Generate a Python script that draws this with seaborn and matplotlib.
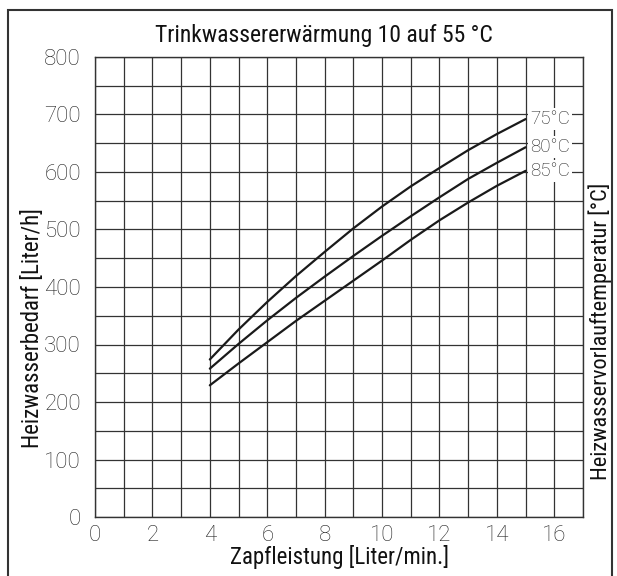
import pandas as pd
import seaborn as sns
import matplotlib
import matplotlib.pyplot as plt
from matplotlib.patches import Rectangle
from matplotlib import font_manager
matplotlib.use('Agg')

sns.set_theme(style="white")
names = {f.name for f in font_manager.fontManager.ttflist}
narrow = [n for n in ['Liberation Sans Narrow', 'DejaVu Sans Condensed', 'Roboto Condensed',
                      'Open Sans Condensed', 'Liberation Sans'] if n in names]
plt.rcParams['font.family'] = narrow + ['DejaVu Sans']

# Zapfleistung [Liter/min.]
flow = [4, 5, 6, 7, 8, 9, 10, 11, 12, 13, 14, 15]
# Heizwasserbedarf [Liter/h] per Vorlauftemperatur
need_75 = [274, 326, 374, 419, 461, 502, 540, 575, 607, 638, 666, 692]
need_80 = [258, 301, 342, 381, 418, 454, 489, 523, 556, 588, 616, 643]
need_85 = [229, 267, 304, 341, 376, 411, 446, 482, 516, 547, 576, 602]
curve_labels = ['75°C', '80°C', '85°C']
x_ticks = [0, 2, 4, 6, 8, 10, 12, 14, 16]
y_ticks = [0, 100, 200, 300, 400, 500, 600, 700, 800]

df = pd.DataFrame({
    'flow': flow * 3,
    'need': need_75 + need_80 + need_85,
    'temp': [curve_labels[0]] * 12 + [curve_labels[1]] * 12 + [curve_labels[2]] * 12,
})

fig = plt.figure(figsize=(6.17, 5.76), dpi=100)
ax = fig.add_axes([95 / 617, 59 / 576, 488 / 617, 460 / 576])

sns.lineplot(data=df, x='flow', y='need', hue='temp', palette=['#1a1a1a'] * 3,
             linewidth=1.6, legend=False, ax=ax)

ax.set_xlim(0, 17)
ax.set_ylim(0, 800)
ax.set_xticks(range(0, 18), minor=True)
ax.set_yticks(range(0, 801, 50), minor=True)
ax.grid(which='both', color='#333333', linewidth=0.9)
ax.set_axisbelow(True)
ax.set_xticks(x_ticks)
ax.set_yticks(y_ticks)
tick_font = dict(family=['Roboto', 'DejaVu Sans'], weight='light', size=16, color='#222222')
ax.set_xticklabels([str(v) for v in x_ticks], **tick_font)
ax.set_yticklabels([str(v) for v in y_ticks], **tick_font)
ax.tick_params(which='both', length=0)
ax.tick_params(axis='y', pad=10)
ax.tick_params(axis='x', pad=6)
for s in ax.spines.values():
    s.set_color('#333333')
    s.set_linewidth(1.0)

ax.set_xlabel('Zapfleistung [Liter/min.]', fontsize=16.5, color='#111111', labelpad=-1)
ax.set_ylabel('Heizwasserbedarf [Liter/h]', fontsize=16.5, color='#111111')
ax.yaxis.set_label_coords(-0.105, 0.41)
ax.set_title('Trinkwassererwärmung 10 auf 55 °C', fontsize=17, color='#111111', pad=11, x=0.47)

ends = [need_75[-1], need_80[-1], need_85[-1]]
for lab, yv in zip(curve_labels, ends):
    ax.text(flow[-1] + 0.15, yv, lab, ha='left', va='center',
            family=['Roboto', 'DejaVu Sans'], weight='light', size=13.5, color='#222222',
            bbox=dict(facecolor='white', edgecolor='none', pad=1.5))

fig.text(600 / 617, 0.425, 'Heizwasservorlauftemperatur [°C]', rotation=90,
         ha='center', va='center', fontsize=16, color='#111111')

fig.patches.append(Rectangle((8 / 617, -0.01), 604 / 617, 1 - 10 / 576 + 0.01,
                             transform=fig.transFigure, fill=False,
                             edgecolor='#333333', linewidth=1.5))

fig.savefig('out.png', dpi=100)
